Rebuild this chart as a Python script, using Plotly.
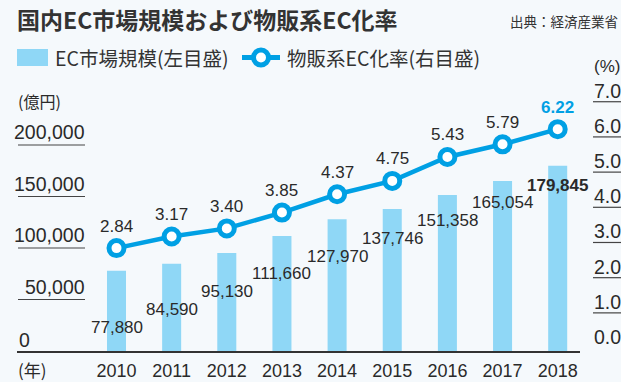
import plotly.graph_objects as go

# 国内EC市場規模（億円）と物販系EC化率（%）
years = [2010, 2011, 2012, 2013, 2014, 2015, 2016, 2017, 2018]
market_size = [77880, 84590, 95130, 111660, 127970, 137746, 151358, 165054, 179845]
ec_rate = [2.84, 3.17, 3.40, 3.85, 4.37, 4.75, 5.43, 5.79, 6.22]

left_ticks = [0, 50000, 100000, 150000, 200000]
left_tick_text = ["0", "50,000", "100,000", "150,000", "200,000"]
right_ticks = [0.0, 1.0, 2.0, 3.0, 4.0, 5.0, 6.0, 7.0]

title_text = "国内EC市場規模および物販系EC化率"
source_text = "出典：経済産業省"
legend_bar = "EC市場規模(左目盛)"
legend_line = "物販系EC化率(右目盛)"

W, H = 621, 382
PL, PR, PT, PB = 17, 580, 90, 351  # plot area in pixels

BAR_C = "#8fd7f6"
LINE_C = "#00a0e4"
TXT_C = "#2a2a2a"
BG = "#f5f9fc"
JP = "Noto Sans CJK JP"
NUM = "Liberation Sans, Arial, sans-serif"


def px(x):
    return (x - PL) / (PR - PL)


def py(y):
    return (PB - y) / (PB - PT)


fig = go.Figure()
fig.add_trace(go.Bar(x=years, y=market_size, marker=dict(color=BAR_C, line_width=0),
                     width=0.345, yaxis="y", showlegend=False, hoverinfo="skip"))
fig.add_trace(go.Scatter(x=years, y=ec_rate, yaxis="y2", mode="lines+markers",
                         line=dict(color=LINE_C, width=4.5),
                         marker=dict(size=15, color="white", line=dict(color=LINE_C, width=5)),
                         showlegend=False, hoverinfo="skip", cliponaxis=False))

ann = []
shapes = []

# bar value labels, staggered upward year by year
for i, (yr, v) in enumerate(zip(years, market_size)):
    last = i == len(years) - 1
    ann.append(dict(x=yr, y=0, xref="x", yref="y",
                    text=f"<b>{v:,}</b>" if last else f"{v:,}", showarrow=False,
                    yanchor="middle", xanchor="center", yshift=24 + 17.75 * i,
                    font=dict(family=NUM, size=17, color=TXT_C)))

# rate labels above each marker
for i, (yr, r) in enumerate(zip(years, ec_rate)):
    last = i == len(years) - 1
    ann.append(dict(x=yr, y=r, xref="x", yref="y2",
                    text=f"<b>{r:.2f}</b>" if last else f"{r:.2f}", showarrow=False,
                    yanchor="middle", xanchor="center", yshift=22,
                    font=dict(family=NUM, size=17, color=LINE_C if last else TXT_C)))

# left axis labels with underlines
for v, t in zip(left_ticks, left_tick_text):
    if v == 0:
        ann.append(dict(x=px(17), y=v, xref="paper", yref="y", text=t, showarrow=False,
                        xanchor="left", yanchor="bottom", yshift=-2,
                        font=dict(family=NUM, size=19.5, color=TXT_C)))
    else:
        ann.append(dict(x=px(87), y=v, xref="paper", yref="y", text=t, showarrow=False,
                        xanchor="right", yanchor="bottom", yshift=0,
                        font=dict(family=NUM, size=19.5, color=TXT_C)))
        shapes.append(dict(type="line", xref="paper", yref="y", x0=px(18), x1=px(85),
                           y0=v, y1=v, line=dict(color="#444", width=1.2)))

# right axis labels with underlines
for v in right_ticks:
    ann.append(dict(x=px(623), y=v, xref="paper", yref="y2", text=f"{v:.1f}", showarrow=False,
                    xanchor="right", yanchor="bottom", yshift=-2,
                    font=dict(family=NUM, size=19.5, color=TXT_C)))
    if v > 0:
        shapes.append(dict(type="line", xref="paper", yref="y2", x0=px(593), x1=px(621),
                           y0=v, y1=v, line=dict(color="#444", width=1.2)))

# unit labels
ann.append(dict(x=px(16), y=py(101), xref="paper", yref="paper", text="(億円)", showarrow=False,
                xanchor="left", yanchor="middle", font=dict(family=JP, size=16, color=TXT_C)))
ann.append(dict(x=px(622), y=py(67), xref="paper", yref="paper", text="(%)", showarrow=False,
                xanchor="right", yanchor="middle", font=dict(family=NUM, size=17, color=TXT_C)))
ann.append(dict(x=px(16), y=py(369), xref="paper", yref="paper", text="(年)", showarrow=False,
                xanchor="left", yanchor="middle", font=dict(family=JP, size=17, color=TXT_C)))

# title and source
ann.append(dict(x=px(15), y=py(19), xref="paper", yref="paper", text=f"<b>{title_text}</b>",
                showarrow=False, xanchor="left", yanchor="middle",
                font=dict(family=JP, size=23, color="#333")))
ann.append(dict(x=px(620), y=py(21), xref="paper", yref="paper", text=source_text,
                showarrow=False, xanchor="right", yanchor="middle",
                font=dict(family=JP, size=13.5, color="#333")))

# legend
shapes.append(dict(type="rect", xref="paper", yref="paper", x0=px(17), x1=px(48),
                   y0=py(66), y1=py(49), fillcolor=BAR_C, line_width=0))
ann.append(dict(x=px(53), y=py(57.5), xref="paper", yref="paper", text=legend_bar,
                showarrow=False, xanchor="left", yanchor="middle",
                font=dict(family=JP, size=19.5, color="#333")))
shapes.append(dict(type="line", xref="paper", yref="paper", x0=px(242), x1=px(280),
                   y0=py(57.5), y1=py(57.5), line=dict(color=LINE_C, width=5)))
shapes.append(dict(type="circle", xref="paper", yref="paper", x0=px(253.5), x1=px(268.5),
                   y0=py(65), y1=py(50), fillcolor="white", line=dict(color=LINE_C, width=5)))
ann.append(dict(x=px(285), y=py(57.5), xref="paper", yref="paper", text=legend_line,
                showarrow=False, xanchor="left", yanchor="middle",
                font=dict(family=JP, size=19.5, color="#333")))

k_left = 1.03e-3   # px per 億円
k_right = 36.0     # px per %
plot_h = PB - PT

fig.update_layout(
    width=W, height=H,
    margin=dict(l=PL, r=W - PR, t=PT, b=H - PB, pad=0, autoexpand=False),
    paper_bgcolor=BG, plot_bgcolor=BG,
    bargap=0.6,
    xaxis=dict(range=[2010 - 99.5 / 55.15, 2018 + 22.3 / 55.15], tickmode="array",
               tickvals=years, ticktext=[str(y) for y in years], showgrid=False,
               zeroline=False, showline=True, linecolor="#333", linewidth=1.5,
               ticks="", ticklabelstandoff=3, automargin=False,
               tickfont=dict(family=NUM, size=18, color=TXT_C)),
    yaxis=dict(range=[0, plot_h / k_left], showgrid=False, zeroline=False,
               showticklabels=False, ticks="", automargin=False),
    yaxis2=dict(range=[-3 / k_right, (354 - PT) / k_right], overlaying="y", side="right",
                showgrid=False, zeroline=False, showticklabels=False, ticks="",
                automargin=False),
    annotations=ann, shapes=shapes,
    showlegend=False,
)

fig.write_html("out.html")
